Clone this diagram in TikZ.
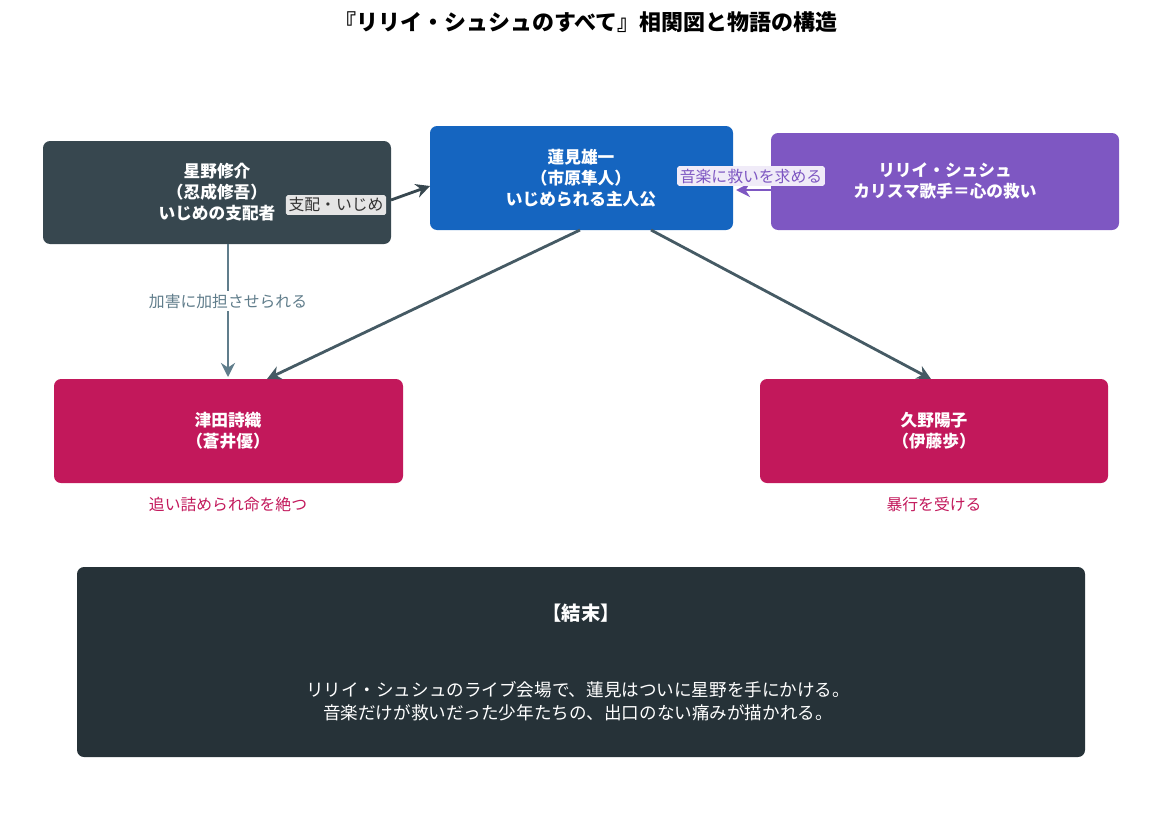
\documentclass[tikz,border=0pt]{standalone}
\usepackage{fontspec}
\setmainfont{Noto Sans CJK JP}
\usetikzlibrary{arrows.meta}
\definecolor{cdark}{HTML}{37474F}
\definecolor{cblue}{HTML}{1565C0}
\definecolor{cpurple}{HTML}{7E57C2}
\definecolor{cred}{HTML}{C2185B}
\definecolor{cend}{HTML}{263238}
\definecolor{cedge}{HTML}{455A64}
\definecolor{cgray}{HTML}{607D8B}
\begin{document}
\begin{tikzpicture}[x=0.02cm,y=-0.02cm,
 box/.style={rounded corners=4pt,text=white,font=\bfseries\fontsize{9.5}{12}\selectfont,align=center,inner sep=0pt},
 edge/.style={line width=1.6pt,-{Stealth[length=8pt,width=8pt]}},
 lab/.style={font=\fontsize{9}{11}\selectfont,inner sep=1.5pt,rounded corners=1pt}]
\useasboundingbox (0,0) rectangle (1162,812);
\node[font=\bfseries\fontsize{12.5}{15}\selectfont] (title) at (586,22) {『リリイ・シュシュのすべて』相関図と物語の構造};
\fill[cdark,rounded corners=4pt] (43,141) rectangle (391,244);
\node[box] (hoshino) at (217,192) {星野修介\\（忍成修吾）\\いじめの支配者};
\fill[cblue,rounded corners=4pt] (430,126) rectangle (733,230);
\node[box] (hasumi) at (581,178) {蓮見雄一\\（市原隼人）\\いじめられる主人公};
\fill[cpurple,rounded corners=4pt] (771,133) rectangle (1119,230);
\node[box] (lily) at (945,181) {リリイ・シュシュ\\カリスマ歌手＝心の救い};
\fill[cred,rounded corners=4pt] (54,379) rectangle (403,483);
\node[box] (tsuda) at (228,431) {津田詩織\\（蒼井優）};
\fill[cred,rounded corners=4pt] (760,379) rectangle (1108,483);
\node[box] (kuno) at (934,431) {久野陽子\\（伊藤歩）};
\node[text=cred,font=\fontsize{9}{11}\selectfont] (tsudanote) at (228,504) {追い詰められ命を絶つ};
\node[text=cred,font=\fontsize{9}{11}\selectfont] (kunonote) at (934,504) {暴行を受ける};
\fill[cend,rounded corners=4pt] (77,567) rectangle (1085,757);
\node[text=white,font=\bfseries\fontsize{11}{13}\selectfont] (endtitle) at (581,613) {【結末】};
\node[text=white,font=\fontsize{10}{13}\selectfont,align=center] (endtext) at (578,701) {リリイ・シュシュのライブ会場で、蓮見はついに星野を手にかける。\\音楽だけが救いだった少年たちの、出口のない痛みが描かれる。};
\coordinate (a1) at (391,200); \coordinate (a2) at (430,186);
\draw[edge,cdark] (a1) -- (a2);
\node[lab,fill=gray!20,text=black!80] (l1) at (336,205) {支配・いじめ};
\coordinate (b1) at (228,244); \coordinate (b2) at (228,377);
\draw[edge,cgray] (b1) -- (b2);
\node[lab,fill=white,text=cgray] (l2) at (228,301) {加害に加担させられる};
\coordinate (c1) at (580,230); \coordinate (c2) at (267,379);
\draw[edge,cedge] (c1) -- (c2);
\coordinate (d1) at (651,230); \coordinate (d2) at (931,379);
\draw[edge,cedge] (d1) -- (d2);
\coordinate (e1) at (771,190); \coordinate (e2) at (736,190);
\draw[edge,cpurple] (e1) -- (e2);
\node[lab,fill=cpurple!12,text=cpurple] (l3) at (751,176) {音楽に救いを求める};
\end{tikzpicture}
\end{document}
